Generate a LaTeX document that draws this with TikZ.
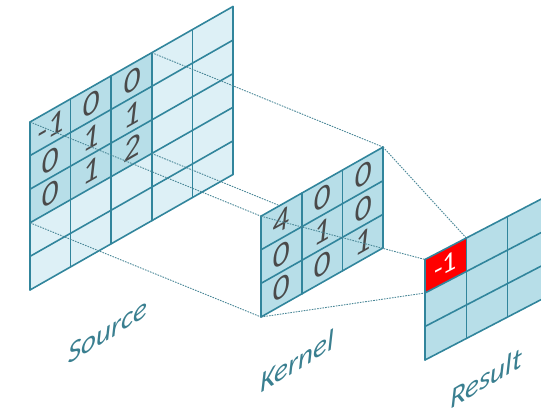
\documentclass[tikz,border=0pt]{standalone}
\usepackage{fontspec}
\newfontfamily\calfont{Carlito}
\definecolor{gline}{HTML}{31859C}
\definecolor{lightfill}{HTML}{DDF0F6}
\definecolor{midfill}{HTML}{B7DEE8}
\definecolor{digitcol}{HTML}{4A4A4A}
\definecolor{labelcol}{HTML}{3A7F90}
\definecolor{dotcol}{HTML}{4A8797}
\tikzset{
  gridpen/.style={draw=gline, line width=1.6pt, line cap=round},
  digit/.style={font=\calfont\itshape\fontsize{33}{33}\selectfont, text=digitcol, inner sep=0pt, transform shape},
  reddigit/.style={font=\calfont\fontsize{28}{28}\selectfont, text=white, inner sep=0pt, transform shape},
  lbl/.style={font=\calfont\itshape\fontsize{29}{29}\selectfont, text=labelcol, inner sep=0pt, transform shape},
  proj/.style={draw=dotcol, line width=0.9pt, dash pattern=on 1.6pt off 1.1pt},
}
\begin{document}
\begin{tikzpicture}[x=1pt,y=1pt]
\useasboundingbox (0,0) rectangle (541,411);
\clip (0,0) rectangle (541,411);
% ---------- Source ----------
\begin{scope}[cm={1,0.569,0,1,(30pt,121pt)}, x=40.6pt, y=33.6pt]
  \fill[lightfill] (0,0) rectangle (5,5);
  \fill[midfill] (0,2) rectangle (3,5);
  \foreach \i in {0,...,5} {\draw[gridpen] (\i,0) -- (\i,5); \draw[gridpen] (0,\i) -- (5,\i);}
  \node[digit] (s11) at (0.52,4.5) {-1};
  \node[digit] (s12) at (1.5,4.5) {0};
  \node[digit] (s13) at (2.5,4.5) {0};
  \node[digit] (s21) at (0.5,3.5) {0};
  \node[digit] (s22) at (1.5,3.5) {1};
  \node[digit] (s23) at (2.5,3.5) {1};
  \node[digit] (s31) at (0.5,2.5) {0};
  \node[digit] (s32) at (1.5,2.5) {1};
  \node[digit] (s33) at (2.5,2.5) {2};
  \coordinate (sTL) at (0,5);
  \coordinate (sTR) at (3,5);
  \coordinate (sBL) at (0,2);
  \coordinate (sBR) at (3,2);
\end{scope}
% ---------- Kernel corners ----------
\begin{scope}[cm={1,0.566,0,1,(261pt,94pt)}, x=40.7pt, y=33.6pt]
  \coordinate (kTL) at (0,3);
  \coordinate (kTR) at (3,3);
  \coordinate (kBL) at (0,0);
  \coordinate (kBR) at (3,0);
\end{scope}
\draw[proj] (sTL) -- (kTL);
\draw[proj] (sTR) -- (kTR);
\draw[proj] (sBL) -- (kBL);
\draw[proj] (sBR) -- (kBR);
% ---------- Kernel ----------
\begin{scope}[cm={1,0.566,0,1,(261pt,94pt)}, x=40.7pt, y=33.6pt]
  \fill[midfill] (0,0) rectangle (3,3);
  \foreach \i in {0,...,3} {\draw[gridpen] (\i,0) -- (\i,3); \draw[gridpen] (0,\i) -- (3,\i);}
  \node[digit] (k11) at (0.5,2.5) {4};
  \node[digit] (k12) at (1.5,2.5) {0};
  \node[digit] (k13) at (2.5,2.5) {0};
  \node[digit] (k21) at (0.5,1.5) {0};
  \node[digit] (k22) at (1.5,1.5) {1};
  \node[digit] (k23) at (2.5,1.5) {0};
  \node[digit] (k31) at (0.5,0.5) {0};
  \node[digit] (k32) at (1.5,0.5) {0};
  \node[digit] (k33) at (2.5,0.5) {1};
\end{scope}
% ---------- Result corners ----------
\begin{scope}[cm={1,0.52,0,1,(425pt,51pt)}, x=41.3pt, y=33.5pt]
  \coordinate (rTL) at (0,3);
  \coordinate (rTR) at (1,3);
  \coordinate (rBL) at (0,2);
  \coordinate (rBR) at (1,2);
\end{scope}
\draw[proj] (kTL) -- (rTL);
\draw[proj] (kTR) -- (rTR);
\draw[proj] (kBL) -- (rBL);
% ---------- Result ----------
\begin{scope}[cm={1,0.52,0,1,(425pt,51pt)}, x=41.3pt, y=33.5pt]
  \fill[midfill] (0,0) rectangle (3,3);
  \fill[red] (0,2) rectangle (1,3);
  \foreach \i in {0,...,3} {\draw[gridpen] (\i,0) -- (\i,3); \draw[gridpen] (0,\i) -- (3,\i);}
  \node[reddigit] (r11) at (0.5,2.5) {-1};
\end{scope}
% ---------- Labels ----------
\begin{scope}[cm={1,0.62,0,1,(108pt,80pt)}]
  \node[lbl] (lsrc) at (0,0) {Source};
\end{scope}
\begin{scope}[cm={1,0.62,0,1,(297pt,50pt)}]
  \node[lbl] (lker) at (0,0) {Kernel};
\end{scope}
\begin{scope}[cm={1,0.6,0,1,(486pt,33pt)}]
  \node[lbl] (lres) at (0,0) {Result};
\end{scope}
\end{tikzpicture}
\end{document}
